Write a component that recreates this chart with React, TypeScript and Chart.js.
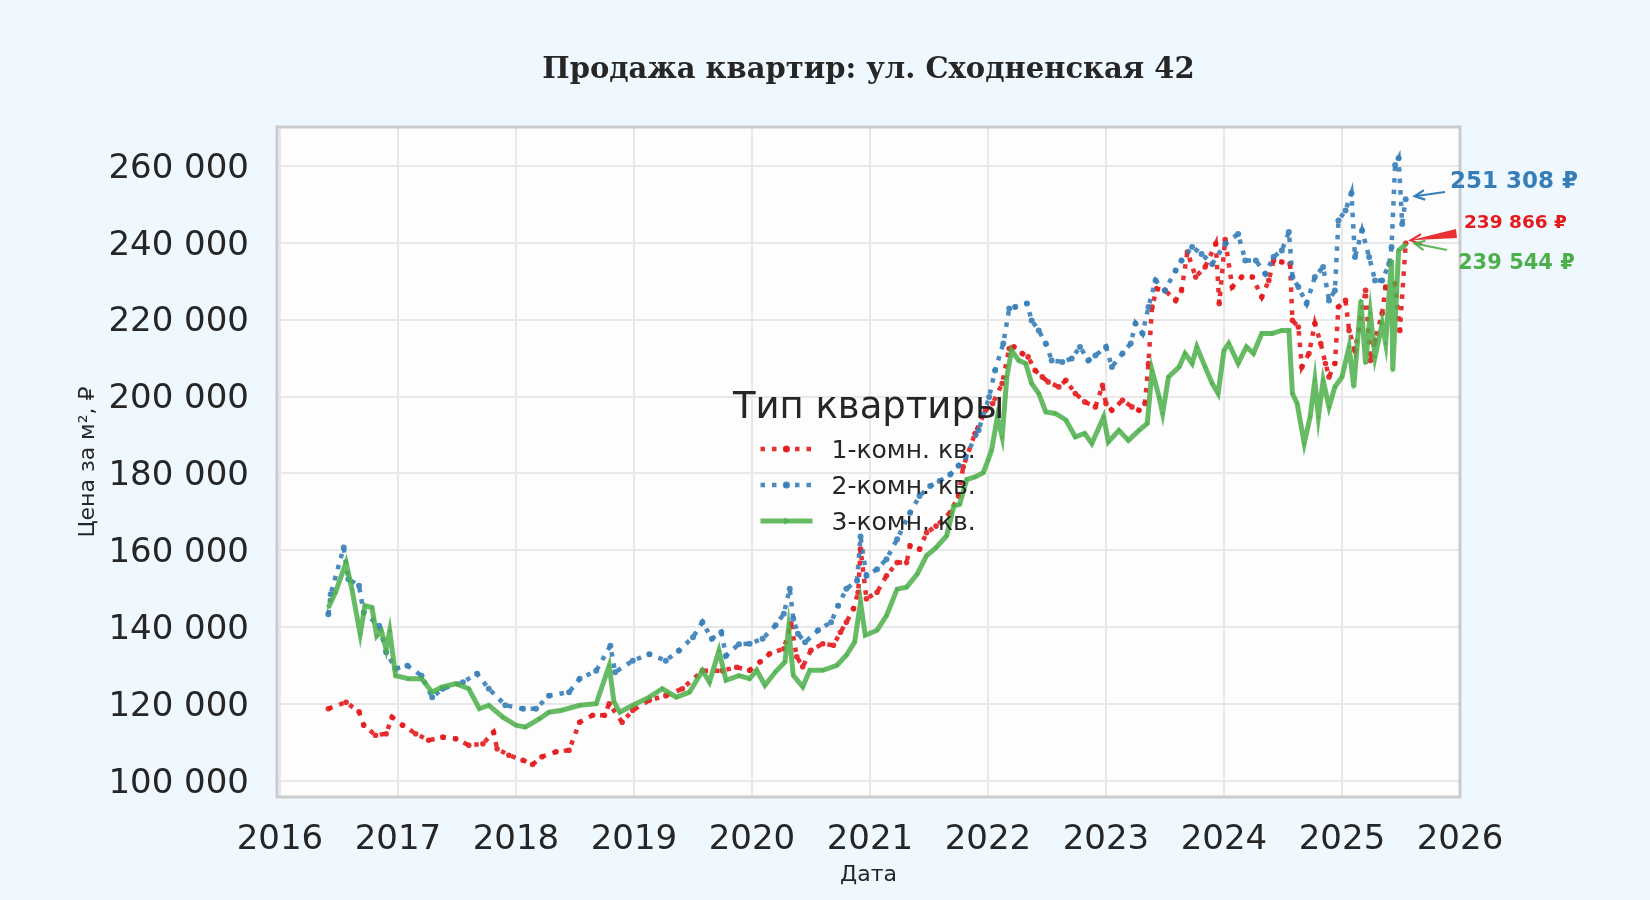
import { useEffect, useRef } from "react";
import { Chart, registerables } from "chart.js";

Chart.register(...registerables);

// 1-комн. кв.
const oneRoomYears = [
  2016.41, 2016.56, 2016.67, 2016.71, 2016.81, 2016.9, 2016.95, 2017.04, 2017.15, 2017.26,
  2017.38, 2017.49, 2017.6, 2017.72, 2017.81, 2017.84, 2017.94, 2018.06, 2018.14, 2018.22,
  2018.34, 2018.45, 2018.54, 2018.65, 2018.75, 2018.79, 2018.9, 2018.99, 2019.13, 2019.27,
  2019.41, 2019.58, 2019.75, 2019.87, 2019.98, 2020.07, 2020.15, 2020.27, 2020.33, 2020.38,
  2020.43, 2020.5, 2020.6, 2020.69, 2020.75, 2020.8, 2020.86, 2020.9, 2020.92, 2020.97,
  2021.06, 2021.14, 2021.23, 2021.31, 2021.34, 2021.42, 2021.48, 2021.56, 2021.68, 2021.75,
  2021.79, 2021.89, 2021.98, 2022.04, 2022.12, 2022.18, 2022.22, 2022.29, 2022.34, 2022.4,
  2022.46, 2022.51, 2022.6, 2022.66, 2022.74, 2022.82, 2022.91, 2022.97, 2023.0, 2023.05,
  2023.14, 2023.22, 2023.28, 2023.33, 2023.36, 2023.39, 2023.43, 2023.5, 2023.59, 2023.64,
  2023.69, 2023.76, 2023.84, 2023.93, 2023.96, 2024.01, 2024.07, 2024.15, 2024.24, 2024.32,
  2024.38, 2024.42, 2024.49, 2024.56, 2024.58, 2024.63, 2024.66, 2024.72, 2024.77, 2024.82,
  2024.86, 2024.89, 2024.94, 2024.97, 2025.03, 2025.06, 2025.11, 2025.2, 2025.24, 2025.28,
  2025.34, 2025.37, 2025.45, 2025.49, 2025.54,
];
const oneRoomPrices = [
  118800, 120500, 118000, 114500, 111900, 112300, 116600, 114500, 112300, 110600,
  111400, 111000, 109300, 109700, 112700, 108400, 106700, 105400, 104300, 106300,
  107600, 108000, 115300, 117100, 117100, 120100, 115300, 118400, 121000, 122200,
  124000, 128700, 128700, 129600, 128800, 131000, 133100, 134400, 140900, 132300,
  129700, 134000, 135700, 135300, 138700, 141300, 144800, 149100, 160300, 147400,
  149100, 153400, 156800, 156800, 161200, 160300, 164600, 166300, 169800, 174100,
  181700, 190400, 196400, 198200, 203400, 212500, 212900, 211200, 210300, 206800,
  205100, 203800, 202500, 204200, 200800, 198600, 197300, 202900, 198200, 196400,
  199000, 197300, 196400, 198200, 208600, 223300, 228000, 227600, 225000, 227600,
  237600, 231100, 233700, 239700, 224200, 240800, 228500, 231100, 231100, 225900,
  230200, 235400, 235000, 234500, 219800, 218100, 207700, 211200, 219000, 213800,
  208600, 205100, 208600, 223300, 225000, 217200, 212000, 227600, 209400, 214600,
  221600, 228500, 229300, 217200, 239866,
];

// 2-комн. кв.
const twoRoomYears = [
  2016.41, 2016.43, 2016.54, 2016.58, 2016.67, 2016.71, 2016.84, 2016.9, 2016.98, 2017.08,
  2017.2, 2017.29, 2017.38, 2017.55, 2017.67, 2017.77, 2017.91, 2018.06, 2018.17, 2018.28,
  2018.45, 2018.54, 2018.68, 2018.8, 2018.84, 2018.99, 2019.13, 2019.27, 2019.38, 2019.5,
  2019.58, 2019.66, 2019.74, 2019.78, 2019.89, 2019.98, 2020.09, 2020.2, 2020.27, 2020.32,
  2020.35, 2020.39, 2020.45, 2020.56, 2020.67, 2020.73, 2020.8, 2020.89, 2020.92, 2020.97,
  2021.06, 2021.14, 2021.23, 2021.34, 2021.42, 2021.51, 2021.59, 2021.68, 2021.75, 2021.81,
  2021.92, 2022.01, 2022.06, 2022.13, 2022.18, 2022.23, 2022.33, 2022.37, 2022.43, 2022.49,
  2022.54, 2022.63, 2022.71, 2022.78, 2022.85, 2022.91, 2023.0, 2023.05, 2023.14, 2023.21,
  2023.25, 2023.31, 2023.36, 2023.42, 2023.5, 2023.59, 2023.64, 2023.73, 2023.81, 2023.9,
  2024.01, 2024.12, 2024.18, 2024.27, 2024.35, 2024.42, 2024.49, 2024.55, 2024.58, 2024.63,
  2024.7, 2024.77, 2024.84, 2024.89, 2024.94, 2024.97, 2025.03, 2025.08, 2025.11, 2025.17,
  2025.23, 2025.28, 2025.34, 2025.4, 2025.42, 2025.45, 2025.48, 2025.51, 2025.54,
];
const twoRoomPrices = [
  143400, 148600, 160700, 152500, 150800, 143800, 140400, 133500, 129200, 130000,
  127400, 121800, 124000, 125700, 127900, 124000, 119700, 118800, 118800, 122200,
  123100, 126600, 128700, 135200, 128300, 131300, 133000, 131300, 133900, 137400,
  141300, 137000, 138700, 132600, 135600, 135700, 137000, 140500, 143500, 150000,
  142200, 138300, 136100, 139200, 141300, 145600, 150000, 152100, 163600, 153400,
  155100, 157700, 162900, 169800, 174100, 176700, 178000, 179700, 182000, 184300,
  191200, 199900, 206800, 213800, 222900, 223300, 224200, 219800, 217200, 213800,
  209400, 209000, 209900, 212900, 209400, 210700, 212900, 207700, 211200, 213800,
  219000, 216400, 223300, 230200, 227600, 232800, 235400, 238900, 237100, 234500,
  239700, 242300, 235400, 235400, 231900, 236300, 238000, 242800, 231100, 228500,
  224200, 231100, 233700, 225000, 227600, 245800, 248400, 252900, 236300, 243200,
  236300, 230200, 230200, 234500, 238900, 260200, 262000, 244900, 251308,
];

// 3-комн. кв.
const threeRoomYears = [
  2016.41, 2016.47, 2016.56, 2016.61, 2016.68, 2016.72, 2016.78, 2016.82, 2016.86, 2016.9,
  2016.93, 2016.98, 2017.09, 2017.2, 2017.29, 2017.37, 2017.49, 2017.6, 2017.69, 2017.77,
  2017.89, 2018.0, 2018.08, 2018.2, 2018.28, 2018.39, 2018.54, 2018.68, 2018.79, 2018.83,
  2018.88, 2018.99, 2019.13, 2019.24, 2019.36, 2019.47, 2019.58, 2019.64, 2019.72, 2019.78,
  2019.89, 2019.98, 2020.04, 2020.11, 2020.2, 2020.28, 2020.31, 2020.35, 2020.43, 2020.49,
  2020.6, 2020.72, 2020.8, 2020.87, 2020.92, 2020.96, 2021.06, 2021.14, 2021.23, 2021.31,
  2021.4, 2021.48, 2021.56, 2021.65, 2021.71, 2021.76, 2021.82, 2021.89, 2021.96, 2022.0,
  2022.03, 2022.08, 2022.12, 2022.16, 2022.2, 2022.26, 2022.32, 2022.37, 2022.43, 2022.49,
  2022.57, 2022.66, 2022.74, 2022.82, 2022.88, 2022.98, 2023.02, 2023.11, 2023.19, 2023.28,
  2023.35, 2023.39, 2023.45, 2023.48, 2023.53, 2023.62, 2023.67, 2023.73, 2023.77, 2023.84,
  2023.9, 2023.95, 2024.0, 2024.04, 2024.12, 2024.19, 2024.25, 2024.32, 2024.41, 2024.49,
  2024.55, 2024.58, 2024.62, 2024.68, 2024.73, 2024.77, 2024.8, 2024.84, 2024.89, 2024.94,
  2025.0, 2025.06, 2025.1, 2025.16, 2025.2, 2025.24, 2025.28, 2025.34, 2025.37, 2025.42,
  2025.43, 2025.48, 2025.54,
];
const threeRoomPrices = [
  145100, 149000, 156800, 149900, 138200, 145600, 145100, 137700, 139000, 134300,
  139000, 127400, 126600, 126600, 123100, 124400, 125300, 124000, 118800, 119700,
  116600, 114500, 114000, 116200, 117900, 118400, 119700, 120100, 130000, 120600,
  117900, 119700, 121800, 124000, 121800, 123100, 128700, 125700, 133900, 126200,
  127400, 126600, 128800, 124900, 128400, 131000, 139600, 127500, 124500, 128800,
  128800, 130100, 132700, 136100, 146500, 137900, 139200, 143000, 149900, 150400,
  153800, 158600, 160700, 163800, 171500, 172000, 178400, 179100, 180200, 183400,
  186000, 194700, 189500, 205100, 212000, 209400, 208600, 203400, 200800, 196000,
  195600, 193900, 189500, 190400, 187800, 194700, 188200, 191200, 188600, 191200,
  193000, 206800, 199900, 195600, 205100, 207700, 211200, 208600, 212900, 207700,
  203400, 200800, 212000, 213800, 208600, 212900, 211200, 216400, 216400, 217200,
  217200, 200800, 198200, 187800, 194700, 204200, 194700, 204200, 197300, 202500,
  205100, 212900, 202500, 225000, 208600, 221600, 210300, 219000, 213800, 235400,
  206800, 238000, 239544,
];

const seriesNames = ["1-комн. кв.", "2-комн. кв.", "3-комн. кв."];
const seriesColors = ["rgba(228,26,28,0.9)", "rgba(55,126,184,0.9)", "rgba(77,175,74,0.85)"];
const yearTicks = [2016, 2017, 2018, 2019, 2020, 2021, 2022, 2023, 2024, 2025, 2026];
const priceTicks = [100000, 120000, 140000, 160000, 180000, 200000, 220000, 240000, 260000];

const TITLE = "Продажа квартир: ул. Сходненская 42";
const LEGEND_TITLE = "Тип квартиры";
const PAGE_BG = "#f0f8ff";
const TEXT = "#262626";
const SANS = "'DejaVu Sans', sans-serif";

const fmt = (v: number) => String(Math.round(v)).replace(/\B(?=(\d{3})+(?!\d))/g, " ");
const pts = (xs: number[], ys: number[]) => xs.map((x, i) => ({ x, y: ys[i] }));

const DOT = [4.5, 7];

function marker(ctx: CanvasRenderingContext2D, kind: string, x: number, y: number, r: number, color: string) {
  ctx.fillStyle = color;
  ctx.beginPath();
  if (kind === "tri") {
    ctx.moveTo(x + r * 1.4, y);
    ctx.lineTo(x - r * 0.8, y - r * 1.2);
    ctx.lineTo(x - r * 0.8, y + r * 1.2);
    ctx.closePath();
  } else {
    ctx.arc(x, y, r, 0, Math.PI * 2);
  }
  ctx.fill();
}

function arrowHead(ctx: CanvasRenderingContext2D, fx: number, fy: number, tx: number, ty: number, len: number) {
  const ang = Math.atan2(ty - fy, tx - fx);
  ctx.beginPath();
  ctx.moveTo(tx - len * Math.cos(ang - 0.45), ty - len * Math.sin(ang - 0.45));
  ctx.lineTo(tx, ty);
  ctx.lineTo(tx - len * Math.cos(ang + 0.45), ty - len * Math.sin(ang + 0.45));
  ctx.stroke();
}

const decor = {
  id: "decor",
  beforeDraw(chart: any) {
    const { ctx, chartArea: a } = chart;
    ctx.save();
    ctx.fillStyle = PAGE_BG;
    ctx.fillRect(0, 0, chart.width, chart.height);
    ctx.fillStyle = "#fdfdfd";
    ctx.fillRect(a.left, a.top, a.right - a.left, a.bottom - a.top);
    ctx.restore();
  },
  afterDraw(chart: any) {
    const { ctx, chartArea: a, scales } = chart;
    const cx = (a.left + a.right) / 2;
    ctx.save();

    // frame
    ctx.strokeStyle = "#cccccc";
    ctx.lineWidth = 3;
    ctx.strokeRect(a.left, a.top, a.right - a.left, a.bottom - a.top);

    // title
    ctx.fillStyle = TEXT;
    ctx.textAlign = "center";
    ctx.textBaseline = "middle";
    ctx.font = "bold 29px 'DejaVu Serif', serif";
    ctx.fillText(TITLE, cx, 70);

    // legend
    ctx.textBaseline = "alphabetic";
    ctx.font = `37px ${SANS}`;
    ctx.fillText(LEGEND_TITLE, cx, a.top + 291);
    ctx.textAlign = "left";
    ctx.font = `25px ${SANS}`;
    seriesNames.forEach((name, i) => {
      const y = a.top + 322 + i * 36;
      const x0 = cx - 108;
      const x1 = cx - 56;
      ctx.strokeStyle = seriesColors[i];
      ctx.lineWidth = i === 2 ? 5 : 4.5;
      ctx.setLineDash(i === 2 ? [] : DOT);
      ctx.beginPath();
      ctx.moveTo(x0, y);
      ctx.lineTo(x1, y);
      ctx.stroke();
      ctx.setLineDash([]);
      marker(ctx, i === 2 ? "tri" : "dot", (x0 + x1) / 2, y, i === 2 ? 3 : 3.5, seriesColors[i]);
      ctx.fillStyle = TEXT;
      ctx.fillText(name, cx - 37, a.top + 331 + i * 36);
    });

    // end-value annotations
    const lastOf = (xs: number[], ys: number[]) => ({
      x: scales.x.getPixelForValue(xs[xs.length - 1]),
      y: scales.y.getPixelForValue(ys[ys.length - 1]),
      v: ys[ys.length - 1],
    });
    const blue = lastOf(twoRoomYears, twoRoomPrices);
    const red = lastOf(oneRoomYears, oneRoomPrices);
    const green = lastOf(threeRoomYears, threeRoomPrices);

    ctx.lineWidth = 2.2;
    // blue
    ctx.strokeStyle = "#377eb8";
    ctx.fillStyle = "#377eb8";
    ctx.beginPath();
    ctx.moveTo(a.right - 15, 192);
    ctx.lineTo(blue.x + 9, blue.y - 3);
    ctx.stroke();
    arrowHead(ctx, a.right - 15, 192, blue.x + 9, blue.y - 3, 11);
    ctx.font = `bold 23px ${SANS}`;
    ctx.fillText(fmt(blue.v) + " ₽", a.right - 10, 188);

    // red wedge
    ctx.fillStyle = "rgba(228,26,28,0.9)";
    ctx.beginPath();
    ctx.moveTo(red.x + 5, red.y - 3);
    ctx.lineTo(a.right - 4, 229);
    ctx.lineTo(a.right - 3, 238);
    ctx.closePath();
    ctx.fill();
    ctx.strokeStyle = "rgba(228,26,28,0.9)";
    arrowHead(ctx, a.right, 236, red.x + 5, red.y - 3, 12);
    ctx.fillStyle = "#e41a1c";
    ctx.font = `bold 18.5px ${SANS}`;
    ctx.fillText(fmt(red.v) + " ₽", a.right + 4, 228);

    // green
    ctx.strokeStyle = "rgba(77,175,74,0.9)";
    ctx.fillStyle = "#4daf4a";
    ctx.beginPath();
    ctx.moveTo(a.right - 13, 250);
    ctx.lineTo(green.x + 9, green.y - 1);
    ctx.stroke();
    arrowHead(ctx, a.right - 13, 250, green.x + 9, green.y - 1, 11);
    ctx.font = `bold 21px ${SANS}`;
    ctx.fillText(fmt(green.v) + " ₽", a.right - 2, 269);

    ctx.restore();
  },
};

export default function App() {
  const canvasRef = useRef<HTMLCanvasElement | null>(null);

  useEffect(() => {
    document.body.style.margin = "0";
    const canvas = canvasRef.current;
    if (!canvas) return;

    const chart = new Chart(canvas, {
      type: "line",
      data: {
        datasets: [
          {
            label: seriesNames[0],
            data: pts(oneRoomYears, oneRoomPrices),
            borderColor: seriesColors[0],
            backgroundColor: seriesColors[0],
            borderWidth: 4.5,
            borderDash: DOT,
            pointRadius: 2.8,
            pointBorderWidth: 0,
            pointStyle: "circle",
            order: 3,
          },
          {
            label: seriesNames[1],
            data: pts(twoRoomYears, twoRoomPrices),
            borderColor: seriesColors[1],
            backgroundColor: seriesColors[1],
            borderWidth: 4.5,
            borderDash: DOT,
            pointRadius: 3,
            pointBorderWidth: 0,
            pointStyle: "circle",
            order: 2,
          },
          {
            label: seriesNames[2],
            data: pts(threeRoomYears, threeRoomPrices),
            borderColor: seriesColors[2],
            backgroundColor: seriesColors[2],
            borderWidth: 5,
            pointRadius: 2.6,
            pointBorderWidth: 0,
            pointStyle: "triangle",
            pointRotation: 90,
            order: 1,
          },
        ],
      },
      options: {
        responsive: false,
        animation: false,
        events: [],
        devicePixelRatio: 1,
        layout: { padding: { left: 0, right: 190, top: 127, bottom: 0 } },
        plugins: { legend: { display: false }, tooltip: { enabled: false } },
        scales: {
          x: {
            type: "linear",
            position: "bottom",
            min: 2015.975,
            max: 2026,
            afterBuildTicks: (axis: any) => {
              axis.ticks = yearTicks.map((value) => ({ value }));
            },
            afterFit: (scale: any) => {
              scale.height = 103;
            },
            grid: { color: "#e8e8e8", lineWidth: 2, drawTicks: false },
            border: { display: false },
            ticks: {
              color: TEXT,
              font: { family: SANS, size: 34 },
              padding: 23,
              maxRotation: 0,
              autoSkip: false,
              callback: (v: any) => String(v),
            },
            title: {
              display: true,
              text: "Дата",
              color: TEXT,
              font: { family: SANS, size: 22 },
              padding: { top: 0, bottom: 12 },
            },
          },
          y: {
            type: "linear",
            min: 95840,
            max: 270100,
            afterBuildTicks: (axis: any) => {
              axis.ticks = priceTicks.map((value) => ({ value }));
            },
            afterFit: (scale: any) => {
              scale.width = 277;
            },
            grid: { color: "#e8e8e8", lineWidth: 2, drawTicks: false },
            border: { display: false },
            ticks: {
              color: TEXT,
              font: { family: SANS, size: 34 },
              padding: 28,
              labelOffset: 3,
              callback: (v: any) => fmt(Number(v)),
            },
            title: {
              display: true,
              text: "Цена за м², ₽",
              color: TEXT,
              font: { family: SANS, size: 22 },
              padding: { top: 75, bottom: 0 },
            },
          },
        },
      },
      plugins: [decor],
    });

    return () => {
      chart.destroy();
    };
  }, []);

  return (
    <div style={{ position: "absolute", left: 0, top: 0, width: 1650, height: 900, background: PAGE_BG }}>
      <canvas ref={canvasRef} width={1650} height={900} style={{ display: "block" }} />
    </div>
  );
}
